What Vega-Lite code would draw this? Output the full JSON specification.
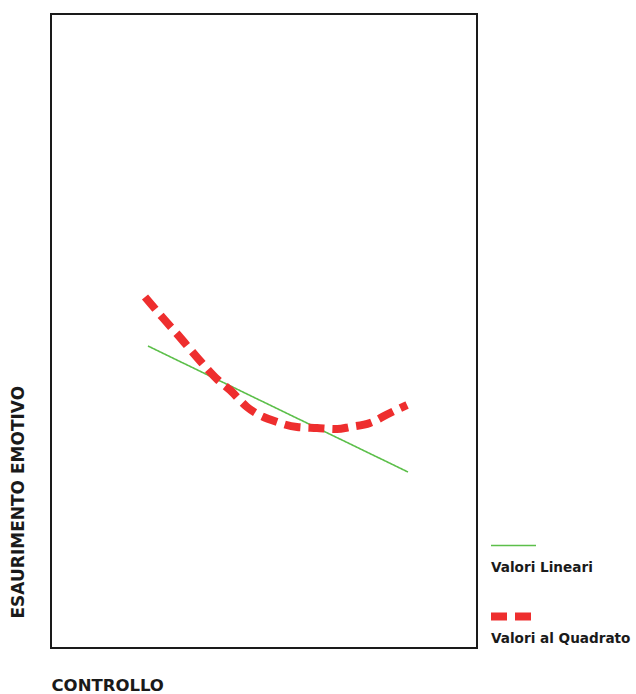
{
  "$schema": "https://vega.github.io/schema/vega-lite/v6.json",
  "width": 426,
  "height": 634,
  "autosize": {"type": "none"},
  "padding": {"left": 51, "top": 14, "right": 159, "bottom": 46},
  "background": "white",
  "config": {
    "view": {"stroke": "#1a1a1a", "strokeWidth": 2},
    "font": "DejaVu Sans"
  },
  "data": {
    "values": [
      {"serie": "Valori Lineari", "ordine": 1, "controllo": 22.77, "esaurimento": 47.63},
      {"serie": "Valori Lineari", "ordine": 2, "controllo": 83.80, "esaurimento": 27.76},
      {"serie": "Valori al Quadrato", "ordine": 1, "controllo": 22.07, "esaurimento": 55.36},
      {"serie": "Valori al Quadrato", "ordine": 2, "controllo": 26.29, "esaurimento": 52.05},
      {"serie": "Valori al Quadrato", "ordine": 3, "controllo": 29.81, "esaurimento": 49.37},
      {"serie": "Valori al Quadrato", "ordine": 4, "controllo": 35.45, "esaurimento": 44.95},
      {"serie": "Valori al Quadrato", "ordine": 5, "controllo": 39.20, "esaurimento": 42.27},
      {"serie": "Valori al Quadrato", "ordine": 6, "controllo": 42.02, "esaurimento": 40.69},
      {"serie": "Valori al Quadrato", "ordine": 7, "controllo": 46.01, "esaurimento": 38.01},
      {"serie": "Valori al Quadrato", "ordine": 8, "controllo": 53.05, "esaurimento": 35.65},
      {"serie": "Valori al Quadrato", "ordine": 9, "controllo": 57.75, "esaurimento": 34.86},
      {"serie": "Valori al Quadrato", "ordine": 10, "controllo": 62.44, "esaurimento": 34.70},
      {"serie": "Valori al Quadrato", "ordine": 11, "controllo": 67.14, "esaurimento": 34.54},
      {"serie": "Valori al Quadrato", "ordine": 12, "controllo": 70.19, "esaurimento": 34.86},
      {"serie": "Valori al Quadrato", "ordine": 13, "controllo": 74.88, "esaurimento": 35.49},
      {"serie": "Valori al Quadrato", "ordine": 14, "controllo": 79.58, "esaurimento": 37.07},
      {"serie": "Valori al Quadrato", "ordine": 15, "controllo": 83.57, "esaurimento": 38.33}
    ]
  },
  "mark": {"type": "line", "interpolate": "monotone"},
  "encoding": {
    "x": {
      "field": "controllo",
      "type": "quantitative",
      "scale": {"domain": [0, 100]},
      "axis": {
        "title": "CONTROLLO",
        "labels": false, "ticks": false, "domain": false, "grid": false,
        "titleAnchor": "start", "titleAlign": "left", "titleBaseline": "top",
        "titlePadding": 29, "titleFontSize": 16.5, "titleFontWeight": "bold",
        "titleColor": "#1a1a1a", "titleFont": "DejaVu Sans"
      }
    },
    "y": {
      "field": "esaurimento",
      "type": "quantitative",
      "scale": {"domain": [0, 100]},
      "axis": {
        "title": "ESAURIMENTO EMOTIVO",
        "labels": false, "ticks": false, "domain": false, "grid": false,
        "titleAngle": -90, "titleAlign": "left", "titleBaseline": "bottom",
        "titleY": 604, "titleX": -24,
        "titleFontSize": 17, "titleFontWeight": "bold",
        "titleColor": "#1a1a1a", "titleFont": "DejaVu Sans"
      }
    },
    "color": {
      "field": "serie",
      "type": "nominal",
      "scale": {"domain": ["Valori Lineari", "Valori al Quadrato"], "range": ["#5cbf4a", "#ee2e2e"]},
      "legend": {
        "title": null, "orient": "none", "legendX": 436, "legendY": 508,
        "padding": 0, "symbolType": "stroke", "symbolSize": 2025,
        "labelExpr": "['', datum.label]", "labelBaseline": "top", "labelOffset": -49,
        "labelFont": "DejaVu Sans", "labelFontSize": 13.6, "labelFontWeight": "bold",
        "labelColor": "#1a1a1a", "labelLimit": 300, "rowPadding": 15
      }
    },
    "strokeDash": {
      "field": "serie",
      "type": "nominal",
      "scale": {"domain": ["Valori Lineari", "Valori al Quadrato"], "range": [[1, 0], [16, 8]]},
      "legend": {
        "title": null, "orient": "none", "legendX": 436, "legendY": 508,
        "padding": 0, "symbolType": "stroke", "symbolSize": 2025,
        "labelExpr": "['', datum.label]", "labelBaseline": "top", "labelOffset": -49,
        "labelFont": "DejaVu Sans", "labelFontSize": 13.6, "labelFontWeight": "bold",
        "labelColor": "#1a1a1a", "labelLimit": 300, "rowPadding": 15
      }
    },
    "strokeWidth": {
      "field": "serie",
      "type": "ordinal",
      "scale": {"domain": ["Valori Lineari", "Valori al Quadrato"], "range": [1.6, 8]},
      "legend": {
        "title": null, "orient": "none", "legendX": 436, "legendY": 508,
        "padding": 0, "symbolType": "stroke", "symbolSize": 2025,
        "labelExpr": "['', datum.label]", "labelBaseline": "top", "labelOffset": -49,
        "labelFont": "DejaVu Sans", "labelFontSize": 13.6, "labelFontWeight": "bold",
        "labelColor": "#1a1a1a", "labelLimit": 300, "rowPadding": 15
      }
    },
    "order": {"field": "ordine", "type": "quantitative"}
  }
}
